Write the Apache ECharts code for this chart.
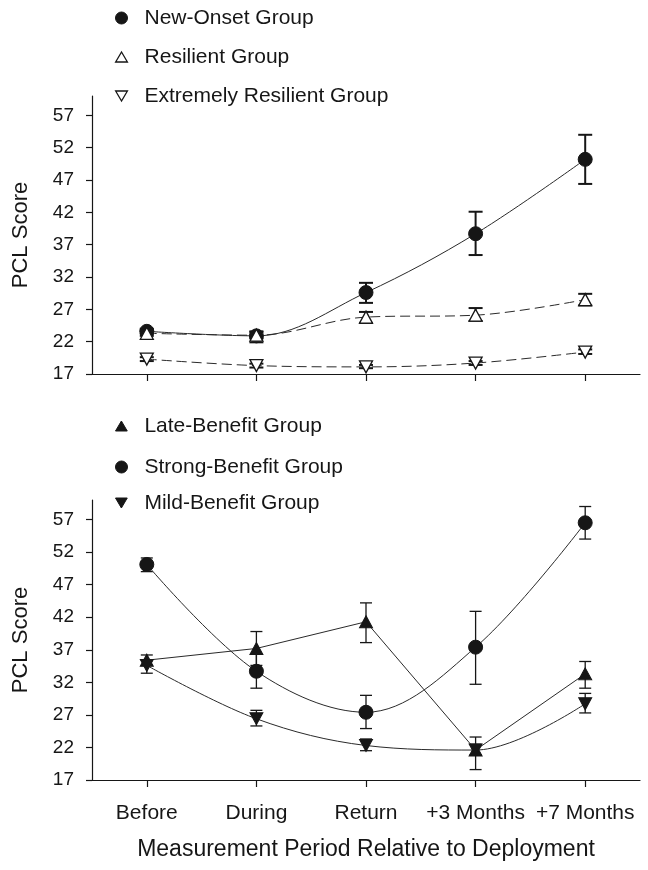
<!DOCTYPE html>
<html>
<head>
<meta charset="utf-8">
<script src="https://cdn.jsdelivr.net/npm/echarts@6/dist/echarts.min.js"></script>
<style>
html,body{margin:0;padding:0;background:#fff;}
#chart{width:648px;height:870px;}
</style>
</head>
<body>
<div id="chart"></div>
<script>
// ---- data ----
const categories = ['Before', 'During', 'Return', '+3 Months', '+7 Months'];
const yTickValues = [17, 22, 27, 32, 37, 42, 47, 52, 57];

// top panel
const newOnset      = [23.6, 22.9, 29.6, 38.7, 50.2];
const newOnsetLow   = [23.2, 21.9, 28.0, 35.4, 46.4];
const newOnsetHigh  = [24.0, 23.6, 31.1, 42.1, 54.0];
const resilient     = [23.3, 23.0, 25.8, 26.1, 28.5];
const resilientLow  = [22.9, 22.5, 24.9, 25.2, 27.6];
const resilientHigh = [23.7, 23.5, 26.6, 27.2, 29.4];
const extreme       = [19.3, 18.3, 18.1, 18.7, 20.4];
const extremeLow    = [19.0, 18.0, 17.9, 18.4, 20.1];
const extremeHigh   = [19.6, 18.6, 18.4, 19.0, 20.8];

// bottom panel
const lateBenefit       = [35.4, 37.2, 41.3, 21.6, 33.3];
const lateBenefitLow    = [34.6, 34.6, 38.1, 18.6, 31.1];
const lateBenefitHigh   = [36.2, 39.8, 44.2, 23.6, 35.2];
const strongBenefit     = [50.1, 33.7, 27.4, 37.4, 56.5];
const strongBenefitLow  = [49.0, 31.1, 24.9, 31.7, 54.0];
const strongBenefitHigh = [51.1, 36.3, 30.0, 42.9, 59.0];
const mildBenefit       = [34.6, 26.4, 22.3, 21.6, 28.7];
const mildBenefitLow    = [33.4, 25.3, 21.5, 20.9, 27.3];
const mildBenefitHigh   = [35.4, 27.7, 23.3, 22.5, 30.3];

// ---- styling ----
const INK = '#161616';
const FONT = 'Liberation Sans, Arial, sans-serif';
const UP_TRI = 'path://M10,0L20,17L0,17Z';
const DOWN_TRI = 'path://M0,0L20,0L10,17Z';

function errSeries(low, high, axis, lw, half) {
  return {
    type: 'custom',
    xAxisIndex: axis, yAxisIndex: axis,
    z: 1,
    silent: true,
    data: categories.map((c, i) => [i, low[i], high[i]]),
    encode: { x: 0, y: [1, 2] },
    renderItem: function (params, api) {
      const x = api.value(0);
      const pHi = api.coord([x, api.value(2)]);
      const pLo = api.coord([x, api.value(1)]);
      const st = { stroke: INK, lineWidth: lw };
      return {
        type: 'group',
        children: [
          { type: 'line', shape: { x1: pHi[0], y1: pHi[1], x2: pLo[0], y2: pLo[1] }, style: st },
          { type: 'line', shape: { x1: pHi[0] - half, y1: pHi[1], x2: pHi[0] + half, y2: pHi[1] }, style: st },
          { type: 'line', shape: { x1: pLo[0] - half, y1: pLo[1], x2: pLo[0] + half, y2: pLo[1] }, style: st }
        ]
      };
    }
  };
}

function lineSeries(name, values, axis, opts) {
  return Object.assign({
    name: name,
    type: 'line',
    xAxisIndex: axis, yAxisIndex: axis,
    z: 3,
    data: values,
    smooth: 0.35,
    symbolSize: 13,
    lineStyle: { color: '#2a2a2a', width: 1 },
    itemStyle: { color: INK, borderColor: INK, borderWidth: 1 }
  }, opts);
}

function legendAt(name, top, icon, size, itemStyle) {
  return {
    data: [{ name: name, icon: icon, itemStyle: itemStyle }],
    left: 110, top: top,
    orient: 'vertical',
    itemWidth: 36, itemHeight: size,
    selectedMode: false,
    textStyle: { fontFamily: FONT, fontSize: 21, color: INK, lineHeight: 22 }
  };
}

function yAxisCfg(grid) {
  return {
    type: 'value', gridIndex: grid,
    min: 17, max: 60, interval: 5,
    name: 'PCL Score', nameLocation: 'middle', nameGap: 60,
    nameTextStyle: { fontFamily: FONT, fontSize: 22, color: INK },
    axisLine: { show: true, lineStyle: { color: INK, width: 1.2 } },
    axisTick: { show: true, length: 6, customValues: yTickValues, lineStyle: { color: INK, width: 1.2 } },
    axisLabel: { customValues: yTickValues, margin: 18, fontFamily: FONT, fontSize: 19, color: INK },
    splitLine: { show: false }
  };
}

function xAxisCfg(grid, showLabels) {
  const a = {
    type: 'category', gridIndex: grid,
    data: categories,
    boundaryGap: true,
    axisLine: { show: true, lineStyle: { color: INK, width: 1.2 } },
    axisTick: { show: true, alignWithLabel: true, length: 7, lineStyle: { color: INK, width: 1.2 } },
    axisLabel: { show: showLabels, margin: 23, fontFamily: FONT, fontSize: 21, color: INK, interval: 0 },
    splitLine: { show: false }
  };
  if (showLabels) {
    a.name = 'Measurement Period Relative to Deployment';
    a.nameLocation = 'middle';
    a.nameGap = 58;
    a.nameTextStyle = { fontFamily: FONT, fontSize: 23, color: INK };
  }
  return a;
}

const openStyle = { color: '#fff', borderColor: INK, borderWidth: 1.3 };
const solidStyle = { color: INK, borderColor: INK, borderWidth: 1 };

const option = {
  animation: false,
  backgroundColor: '#fff',
  grid: [
    { left: 92, right: 8, top: 96, height: 278 },
    { left: 92, right: 8, top: 500, height: 280 }
  ],
  xAxis: [xAxisCfg(0, false), xAxisCfg(1, true)],
  yAxis: [yAxisCfg(0), yAxisCfg(1)],
  legend: [
    legendAt('New-Onset Group', 2, 'circle', 12, solidStyle),
    legendAt('Resilient Group', 41, UP_TRI, 10, openStyle),
    legendAt('Extremely Resilient Group', 80, DOWN_TRI, 10, openStyle),
    legendAt('Late-Benefit Group', 410, UP_TRI, 10, solidStyle),
    legendAt('Strong-Benefit Group', 451, 'circle', 12, solidStyle),
    legendAt('Mild-Benefit Group', 487, DOWN_TRI, 10, solidStyle)
  ],
  series: [
    errSeries(newOnsetLow, newOnsetHigh, 0, 2, 7),
    errSeries(resilientLow, resilientHigh, 0, 2, 7),
    errSeries(extremeLow, extremeHigh, 0, 2, 7),
    errSeries(lateBenefitLow, lateBenefitHigh, 1, 1.3, 6),
    errSeries(strongBenefitLow, strongBenefitHigh, 1, 1.3, 6),
    errSeries(mildBenefitLow, mildBenefitHigh, 1, 1.3, 6),

    lineSeries('New-Onset Group', newOnset, 0, { symbol: 'circle', symbolSize: 14, itemStyle: solidStyle }),
    lineSeries('Resilient Group', resilient, 0, {
      symbol: UP_TRI, symbolSize: [13, 12], itemStyle: openStyle,
      lineStyle: { color: '#2a2a2a', width: 1, type: [10, 5] }
    }),
    lineSeries('Extremely Resilient Group', extreme, 0, {
      symbol: DOWN_TRI, symbolSize: [13, 12], itemStyle: openStyle,
      lineStyle: { color: '#2a2a2a', width: 1, type: [10, 5] }
    }),

    lineSeries('Late-Benefit Group', lateBenefit, 1, { symbol: UP_TRI, symbolSize: [13, 12], smooth: false, itemStyle: solidStyle }),
    lineSeries('Strong-Benefit Group', strongBenefit, 1, { symbol: 'circle', symbolSize: 14, itemStyle: solidStyle }),
    lineSeries('Mild-Benefit Group', mildBenefit, 1, { symbol: DOWN_TRI, symbolSize: [13, 12], itemStyle: solidStyle })
  ]
};

const chart = echarts.init(document.getElementById('chart'), null, { renderer: 'canvas' });
chart.setOption(option);
</script>
</body>
</html>
